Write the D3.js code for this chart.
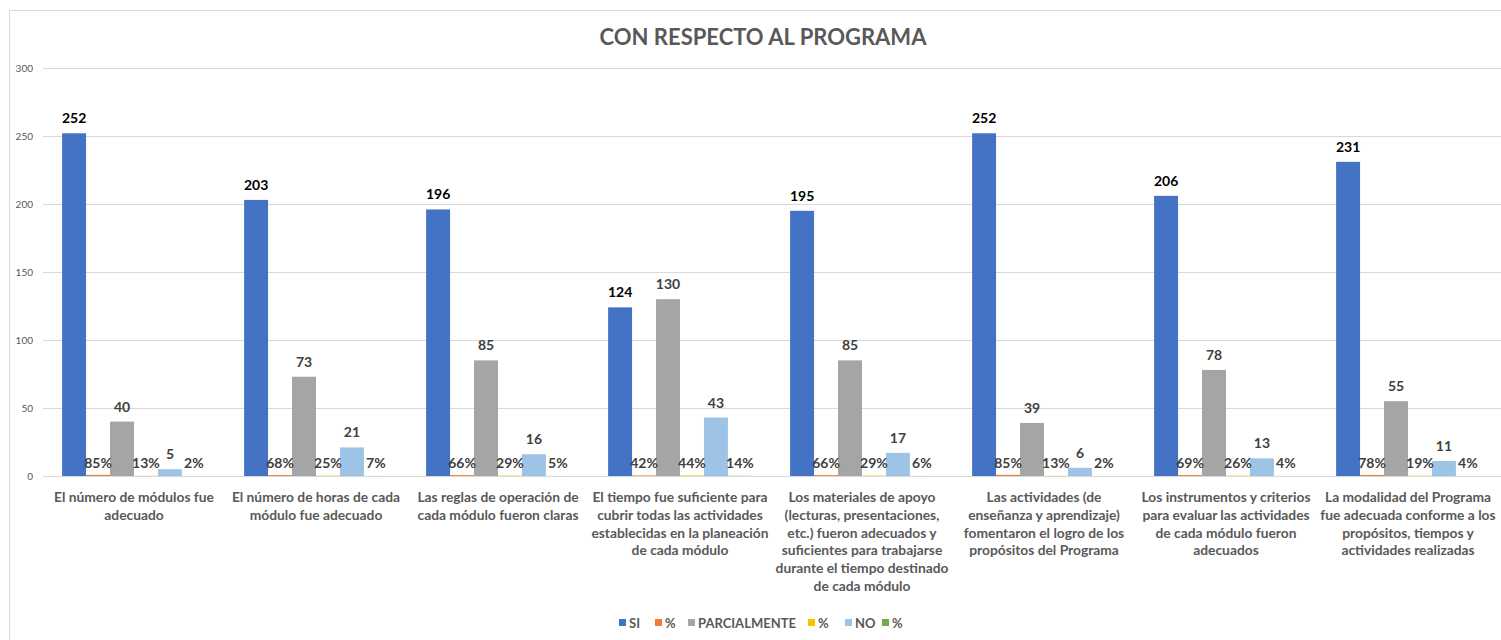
<!DOCTYPE html>
<html>
<head>
<meta charset="utf-8">
<style>
  body { margin: 0; background: #fff; }
  svg text { font-family: Lato, "Open Sans", sans-serif; }
</style>
</head>
<body>
<script src="https://cdn.jsdelivr.net/npm/d3@7"></script>
<script>
// chart data
var categories = [
  ["El número de módulos fue", "adecuado"],
  ["El número de horas de cada", "módulo fue adecuado"],
  ["Las reglas de operación de", "cada módulo fueron claras"],
  ["El tiempo fue suficiente para", "cubrir todas las actividades", "establecidas en la planeación", "de cada módulo"],
  ["Los materiales de apoyo", "(lecturas, presentaciones,", "etc.) fueron adecuados y", "suficientes para trabajarse", "durante el tiempo destinado", "de cada módulo"],
  ["Las actividades (de", "enseñanza y aprendizaje)", "fomentaron el logro de los", "propósitos del Programa"],
  ["Los instrumentos y criterios", "para evaluar las actividades", "de cada módulo fueron", "adecuados"],
  ["La modalidad del Programa", "fue adecuada conforme a los", "propósitos, tiempos y", "actividades realizadas"]
];
var si = [252, 203, 196, 124, 195, 252, 206, 231];
var siPct = [0.85, 0.68, 0.66, 0.42, 0.66, 0.85, 0.69, 0.78];
var parcial = [40, 73, 85, 130, 85, 39, 78, 55];
var parcialPct = [0.13, 0.25, 0.29, 0.44, 0.29, 0.13, 0.26, 0.19];
var no = [5, 21, 16, 43, 17, 6, 13, 11];
var noPct = [0.02, 0.07, 0.05, 0.14, 0.06, 0.02, 0.04, 0.04];
var seriesNames = ["SI", "%", "PARCIALMENTE", "%", "NO", "%"];
var yTicks = [0, 50, 100, 150, 200, 250, 300];

var series = [
  {name: seriesNames[0], values: si, color: "#4472C4", pct: false, labelColor: "#000"},
  {name: seriesNames[1], values: siPct, color: "#ED7D31", pct: true, labelColor: "#404040"},
  {name: seriesNames[2], values: parcial, color: "#A5A5A5", pct: false, labelColor: "#404040"},
  {name: seriesNames[3], values: parcialPct, color: "#FFC000", pct: true, labelColor: "#404040"},
  {name: seriesNames[4], values: no, color: "#9DC3E6", pct: false, labelColor: "#404040"},
  {name: seriesNames[5], values: noPct, color: "#70AD47", pct: true, labelColor: "#404040"}
];

var W = 1501, H = 640;
var svg = d3.select("body").append("svg")
    .attr("width", W)
    .attr("height", H);

// frame
svg.append("rect")
    .attr("x", 9.5).attr("y", 10.5)
    .attr("width", W + 20).attr("height", H + 20)
    .attr("fill", "#fff")
    .attr("stroke", "#D9D9D9");

svg.append("text")
    .attr("x", 763).attr("y", 45)
    .attr("text-anchor", "middle")
    .attr("font-size", 22)
    .attr("font-weight", "bold")
    .attr("fill", "#595959")
    .text("CON RESPECTO AL PROGRAMA");

var x0 = d3.scaleBand()
    .domain(d3.range(categories.length))
    .range([43, 1499])
    .paddingInner(0.21)
    .paddingOuter(0.105);
var x1 = d3.scaleBand()
    .domain(d3.range(series.length))
    .range([0, x0.bandwidth()]);
var y = d3.scaleLinear().domain([0, 300]).range([476, 68]);

// gridlines
svg.append("g")
  .selectAll("line")
  .data(yTicks)
  .enter().append("line")
    .attr("x1", 43).attr("x2", W)
    .attr("y1", function(d) { return Math.round(y(d)) + 0.5; })
    .attr("y2", function(d) { return Math.round(y(d)) + 0.5; })
    .attr("stroke", "#D9D9D9")
    .attr("stroke-width", 1);

svg.append("g")
  .selectAll("text")
  .data(yTicks)
  .enter().append("text")
    .attr("x", 33)
    .attr("y", function(d) { return y(d) + 3.5; })
    .attr("text-anchor", "end")
    .attr("font-size", 10)
    .attr("fill", "#595959")
    .text(function(d) { return d; });

// bars
series.forEach(function(s, k) {
  svg.append("g")
      .attr("fill", s.color)
    .selectAll("rect")
    .data(s.values)
    .enter().append("rect")
      .attr("x", function(d, i) { return x0(i) + x1(k); })
      .attr("y", function(d) { return y(d); })
      .attr("width", x1.bandwidth())
      .attr("height", function(d) { return Math.max(y(0) - y(d), 0); });
});

// value labels
series.forEach(function(s, k) {
  svg.append("g")
    .selectAll("text")
    .data(s.values)
    .enter().append("text")
      .attr("x", function(d, i) { return x0(i) + x1(k) + x1.bandwidth() / 2; })
      .attr("y", function(d) { return s.pct ? y(0) - 8 : y(d) - 10; })
      .attr("text-anchor", "middle")
      .attr("font-size", 14)
      .attr("font-weight", "bold")
      .attr("fill", s.labelColor)
      .text(function(d) { return s.pct ? Math.round(d * 100) + "%" : d; });
});

// category labels
var cat = svg.append("g")
  .selectAll("text")
  .data(categories)
  .enter().append("text")
    .attr("x", function(d, i) { return x0(i) + x0.bandwidth() / 2; })
    .attr("y", 502)
    .attr("text-anchor", "middle")
    .attr("font-size", 13.8)
    .attr("font-weight", "bold")
    .attr("fill", "#595959");
cat.selectAll("tspan")
  .data(function(d) { return d; })
  .enter().append("tspan")
    .attr("x", function() { return d3.select(this.parentNode).attr("x"); })
    .attr("dy", function(d, i) { return i === 0 ? 0 : 17.8; })
    .text(function(d) { return d; });

// legend
var legendX = [619, 655, 688, 808, 845, 882];
var leg = svg.append("g")
  .selectAll("g")
  .data(series)
  .enter().append("g")
    .attr("transform", function(d, i) { return "translate(" + legendX[i] + ",623)"; });
leg.append("rect")
    .attr("x", 0).attr("y", -4)
    .attr("width", 7).attr("height", 7)
    .attr("fill", function(d) { return d.color; });
leg.append("text")
    .attr("x", 10).attr("y", 4.5)
    .attr("font-size", 13)
    .attr("font-weight", "bold")
    .attr("fill", "#595959")
    .text(function(d) { return d.name; });
</script>
</body>
</html>
